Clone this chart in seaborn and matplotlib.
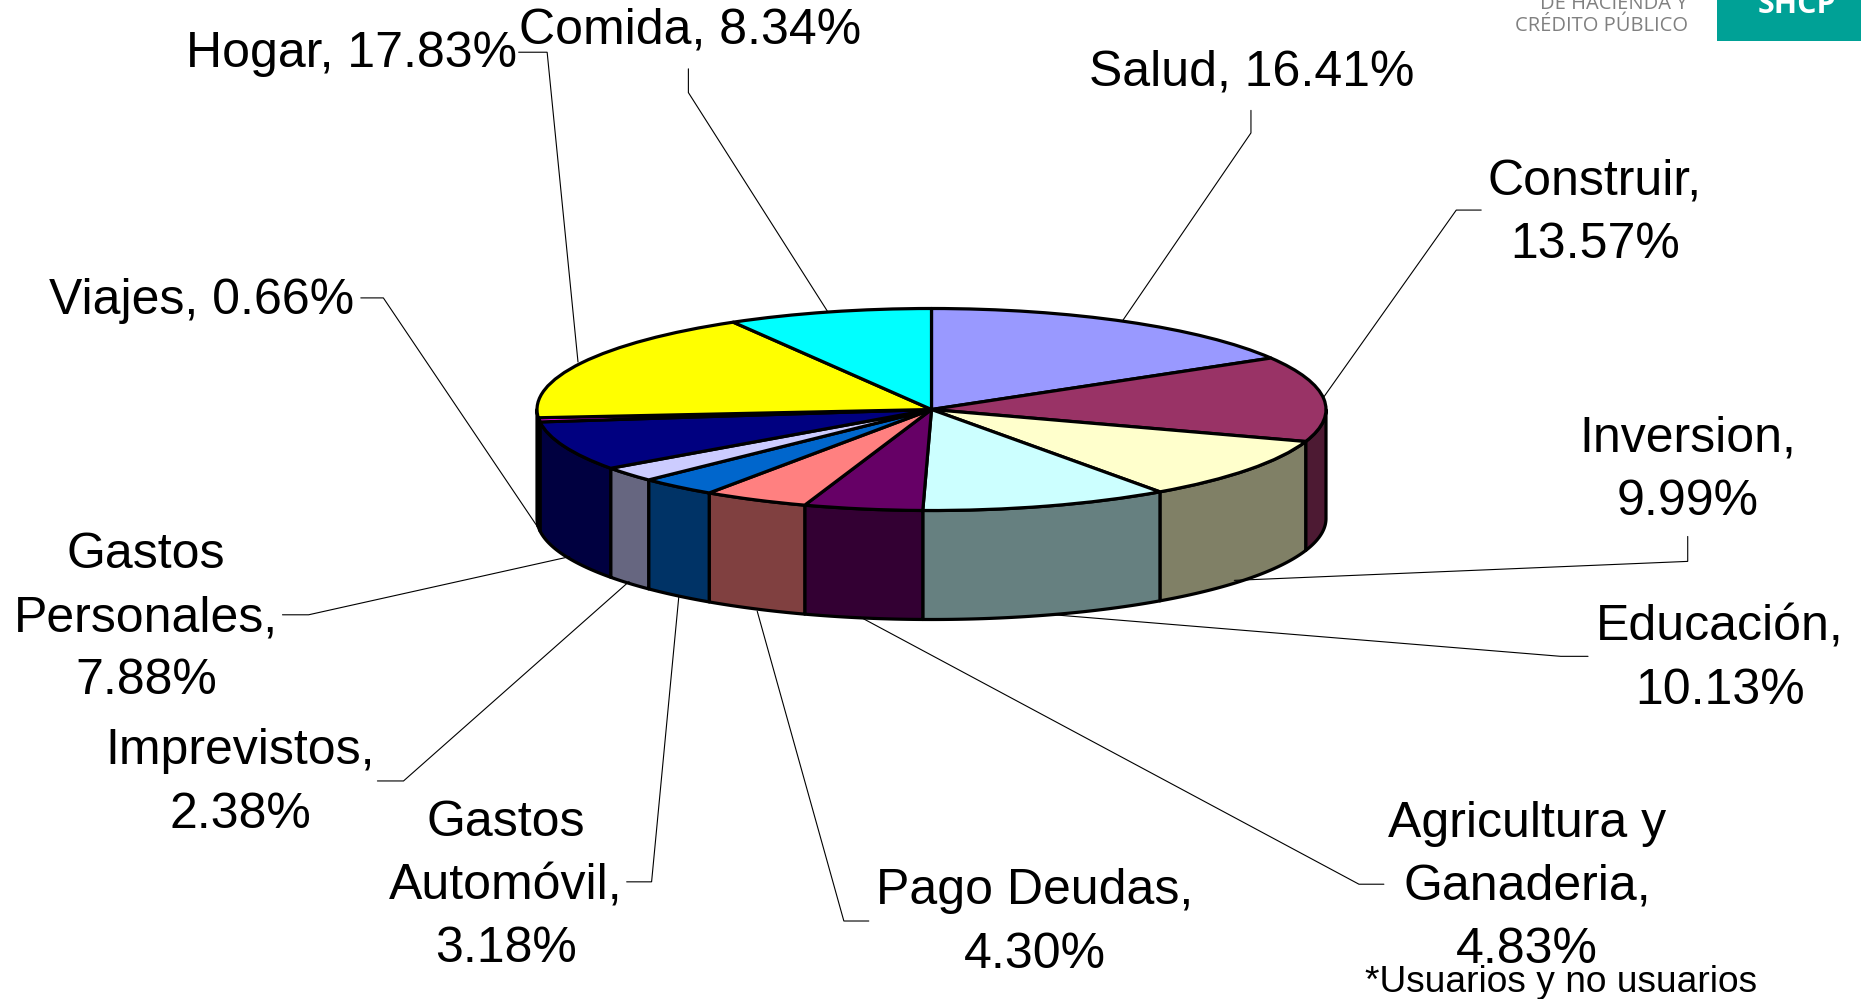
import numpy as np
import matplotlib
matplotlib.use("Agg")
import matplotlib.pyplot as plt
from matplotlib.colors import to_rgb
import seaborn as sns

categories = ["Salud", "Construir", "Inversion", "Educación", "Agricultura y Ganaderia",
              "Pago Deudas", "Gastos Automóvil", "Imprevistos", "Gastos Personales",
              "Viajes", "Hogar", "Comida"]
values = [16.41, 13.57, 9.99, 10.13, 4.83, 4.30, 3.18, 2.38, 7.88, 0.66, 17.83, 8.34]
label_text = ["Salud, 16.41%", "Construir,\n13.57%", "Inversion,\n9.99%", "Educación,\n10.13%",
              "Agricultura y\nGanaderia,\n4.83%", "Pago Deudas,\n4.30%", "Gastos\nAutomóvil,\n3.18%",
              "Imprevistos,\n2.38%", "Gastos\nPersonales,\n7.88%", "Viajes, 0.66%",
              "Hogar, 17.83%", "Comida, 8.34%"]
top_colors = ["#9999FF", "#993366", "#FFFFCC", "#CCFFFF", "#660066", "#FF8080",
              "#0066CC", "#CCCCFF", "#000080", "#FF00FF", "#FFFF00", "#00FFFF"]
label_pos = [(1252, 70), (1595, 210), (1688, 467), (1720, 656), (1527, 884), (1035, 920),
             (506, 883), (240, 780), (146, 615), (202, 298), (351, 51), (690, 28)]
# leader lines, in the shrunk-reference pixel frame
leaders = [[(1054, 93), (1054, 112), (946, 270)],
           [(1248, 177), (1227, 177), (1115, 335)],
           [(1422, 452), (1422, 473), (1040, 489)],
           [(1338, 553), (1315, 553), (888, 518)],
           [(1166, 745), (1145, 745), (725, 520)],
           [(732, 776), (711, 776), (638, 515)],
           [(528, 743), (549, 743), (572, 502)],
           [(318, 658), (340, 658), (530, 490)],
           [(238, 518), (260, 518), (480, 469)],
           [(304, 251), (323, 251), (455, 447)],
           [(437, 44), (461, 44), (487, 305)],
           [(580, 58), (580, 78), (697, 262)]]

W, H = 1861, 999
CX, CY, RX, RY, DEPTH = 931.5, 409.5, 394.5, 101.0, 109.0
FONT = "Liberation Sans"

sns.set_theme(style="white")
plt.rcParams["font.family"] = [FONT, "DejaVu Sans"]
palette = sns.color_palette(top_colors)

fig = plt.figure(figsize=(W / 100, H / 100), dpi=100, facecolor="white")
ax = fig.add_axes([0, 0, 1, 1])
ax.set_axis_off()

# side walls of the disc: half-brightness colours, visible between 90 and 270 degrees clockwise
fracs = np.array(values) / np.sum(values)
edges = np.concatenate([[0], np.cumsum(fracs)]) * 360
depth = DEPTH / RY
for i, col in enumerate(palette):
    a, b = max(edges[i], 90), min(edges[i + 1], 270)
    if b <= a:
        continue
    t = np.radians(np.linspace(a, b, 60))
    x, y = np.sin(t), np.cos(t)
    dark = tuple(c * 0.5 for c in to_rgb(col))
    ax.fill(np.r_[x, x[::-1]], np.r_[y, y[::-1] - depth], facecolor=dark,
            edgecolor="black", linewidth=2.3, joinstyle="round", zorder=1)

ax.pie(values, colors=palette, startangle=90, counterclock=False, radius=1,
       wedgeprops=dict(edgecolor="black", linewidth=2.3, joinstyle="round", zorder=2))
ax.set_aspect("auto")
ax.set_xlim(-CX / RX, (W - CX) / RX)
ax.set_ylim((CY - H) / RY, CY / RY)
ax.set_axis_off()

# overlay in figure pixels for the labels, leaders and logo
ov = fig.add_axes([0, 0, 1, 1], facecolor="none")
ov.set_xlim(0, W)
ov.set_ylim(H, 0)
ov.set_axis_off()

k = W / 1568
for line in leaders:
    xs, ys = zip(*line)
    ov.plot(np.array(xs) * k, np.array(ys) * k, color="black", lw=0.8, zorder=3,
            solid_joinstyle="miter")

for txt, (x, y) in zip(label_text, label_pos):
    ov.text(x, y + 3, txt, ha="center", va="center", fontsize=36, color="black",
            family=FONT, linespacing=1.48, zorder=4)

ov.text(1561, 982, "*Usuarios y no usuarios", ha="center", va="center", fontsize=26.7,
        color="black", family=FONT, zorder=5)

# logo corner
ov.fill_between([1717, 1861], 0, 41, color="#00A196", lw=0, zorder=3)
ov.text(1797, 13, "SHCP", ha="center", va="baseline", fontsize=22, fontweight="bold",
        color="white", family="Open Sans", zorder=4)
ov.text(1688, 4, "DE HACIENDA Y", ha="right", va="center", fontsize=14.5,
        color="#808080", family="Open Sans", zorder=4)
ov.text(1688, 26, "CRÉDITO PÚBLICO", ha="right", va="center", fontsize=14.5,
        color="#808080", family="Open Sans", zorder=4)

fig.savefig("out.png", dpi=100, facecolor="white")
